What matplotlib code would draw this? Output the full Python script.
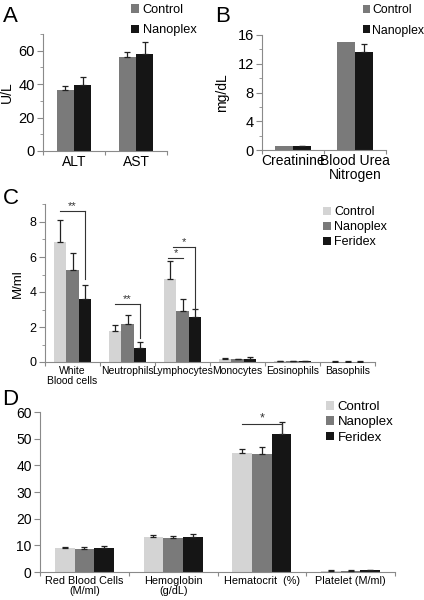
import matplotlib
matplotlib.use("Agg")
import matplotlib.pyplot as plt
from matplotlib.patches import Patch
from matplotlib.ticker import MultipleLocator
import numpy as np

plt.rcParams['font.family'] = ['Liberation Sans', 'DejaVu Sans']
NARROW = ['Liberation Sans Narrow', 'Liberation Sans', 'DejaVu Sans']

# ---------------- data ----------------
a_cats = ["ALT", "AST"]
a_control = [36.5, 56.0]
a_control_err = [2.5, 3.5]
a_nano = [39.5, 58.0]
a_nano_err = [5.0, 7.5]

b_cats = ["Creatinine", "Blood Urea\nNitrogen"]
b_control = [0.6, 15.0]
b_control_err = [0.0, 0.0]
b_nano = [0.5, 13.7]
b_nano_err = [0.1, 1.1]

c_cats = ["White\nBlood cells", "Neutrophils", "Lymphocytes", "Monocytes", "Eosinophils", "Basophils"]
c_control = [6.85, 1.8, 4.75, 0.2, 0.03, 0.02]
c_control_err = [1.25, 0.3, 1.05, 0.05, 0.01, 0.01]
c_nano = [5.25, 2.15, 2.9, 0.15, 0.03, 0.02]
c_nano_err = [0.95, 0.55, 0.7, 0.05, 0.01, 0.01]
c_ferid = [3.6, 0.8, 2.55, 0.18, 0.03, 0.02]
c_ferid_err = [0.8, 0.35, 0.5, 0.12, 0.01, 0.01]

d_cats = ["Red Blood Cells\n(M/ml)", "Hemoglobin\n(g/dL)", "Hematocrit  (%)", "Platelet (M/ml)"]
d_control = [9.0, 13.2, 44.7, 0.5]
d_control_err = [0.5, 0.6, 1.4, 0.2]
d_nano = [8.7, 12.9, 44.1, 0.5]
d_nano_err = [0.5, 0.5, 2.6, 0.2]
d_ferid = [9.0, 13.3, 51.8, 0.6]
d_ferid_err = [0.9, 0.8, 4.3, 0.2]

# ---------------- figure ----------------
W, H = 424, 600
fig = plt.figure(figsize=(W / 100, H / 100), dpi=100)

def px_axes(left, right, bottom, top):
    return fig.add_axes([left / W, 1 - bottom / H, (right - left) / W, (bottom - top) / H])

AXC = '#8a8a8a'
C_LIGHT = '#d4d4d4'
C_MID = '#7a7a7a'
C_DARK = '#151515'

def style(ax, ncat, ymax, major, minor, fs):
    ax.set_xlim(0, ncat)
    ax.set_ylim(0, ymax)
    for s in ['top', 'right']:
        ax.spines[s].set_visible(False)
    for s in ['left', 'bottom']:
        ax.spines[s].set_color(AXC)
        ax.spines[s].set_linewidth(0.8)
    ax.yaxis.set_major_locator(MultipleLocator(major))
    if minor:
        ax.yaxis.set_minor_locator(MultipleLocator(minor))
    ax.tick_params(axis='y', which='major', length=4, width=0.8, color=AXC, labelsize=fs, pad=2)
    ax.tick_params(axis='y', which='minor', length=2.5, width=0.6, color=AXC)
    ax.set_xticks(np.arange(0, ncat + 1), minor=True)
    ax.set_xticks(np.arange(ncat) + 0.5)
    ax.tick_params(axis='x', which='major', length=0, pad=3)
    ax.tick_params(axis='x', which='minor', length=3, width=0.8, color=AXC)

def bars(ax, vals, errs, colors, width):
    n = len(vals)
    x = np.arange(len(vals[0])) + 0.5
    offs = (np.arange(n) - (n - 1) / 2) * width
    for v, e, c, o in zip(vals, errs, colors, offs):
        ax.bar(x + o, v, width, color=c, zorder=2)
        e = np.asarray(e, dtype=float)
        m = e > 0
        if m.any():
            ax.errorbar((x + o)[m], np.asarray(v)[m], yerr=[np.zeros(m.sum()), e[m]], fmt='none',
                        ecolor='#222222', elinewidth=0.9, capsize=2.4, capthick=0.9, zorder=3)
    return x, offs

def legend(ax, labels, colors, x, y, fs, spacing, pad=0.3):
    handles = [Patch(facecolor=c, edgecolor='none') for c in colors]
    ax.legend(handles, labels, loc='upper left', bbox_to_anchor=(x / W, 1 - y / H),
              bbox_transform=fig.transFigure, frameon=False, fontsize=fs,
              handlelength=0.6, handleheight=0.6, handletextpad=pad,
              labelspacing=spacing, borderaxespad=0, borderpad=0)

# ---- Panel A ----
axA = px_axes(43, 167, 151, 34)
style(axA, 2, 70, 20, 10, 10.5)
bars(axA, [a_control, a_nano], [a_control_err, a_nano_err], [C_MID, C_DARK], 0.28)
axA.set_xticklabels(a_cats, fontsize=10)
axA.set_ylabel("U/L", fontsize=10, labelpad=3)
legend(axA, ["Control", "Nanoplex"], [C_MID, C_DARK], 131, 4, 9.2, 0.65)
fig.text(3 / W, 1 - 22 / H, "A", fontsize=16)

# ---- Panel B ----
axB = px_axes(262, 386, 150, 35)
style(axB, 2, 16, 4, 2, 10.5)
bars(axB, [b_control, b_nano], [b_control_err, b_nano_err], [C_MID, C_DARK], 0.29)
axB.set_xticklabels(b_cats, fontsize=10, linespacing=0.95)
axB.set_ylabel("mg/dL", fontsize=10, labelpad=6)
legend(axB, ["Control", "Nanoplex"], [C_MID, C_DARK], 363, 4, 8.8, 0.7, pad=0.15)
fig.text(215 / W, 1 - 22 / H, "B", fontsize=16)

# ---- Panel C ----
axC = px_axes(45, 375, 362, 204.5)
style(axC, 6, 9, 2, 1, 9)
xc, oc = bars(axC, [c_control, c_nano, c_ferid], [c_control_err, c_nano_err, c_ferid_err],
              [C_LIGHT, C_MID, C_DARK], 0.225)
axC.set_xticklabels(c_cats, fontsize=7.5, family=NARROW, linespacing=0.95)
axC.set_ylabel("M/ml", fontsize=9.5, labelpad=4)
legend(axC, ["Control", "Nanoplex", "Feridex"], [C_LIGHT, C_MID, C_DARK], 323, 206, 9, 0.25)
fig.text(3 / W, 1 - 204 / H, "C", fontsize=16)

def bracket(ax, x1, x2, y, ydrop, stars, fs=8):
    ax.plot([x1, x2], [y, y], color='#333333', lw=0.8, zorder=4)
    if ydrop is not None:
        ax.plot([x2, x2], [y, ydrop], color='#333333', lw=0.8, zorder=4)
    ax.text((x1 + x2) / 2, y, stars, ha='center', va='bottom', fontsize=fs, color='#333333')

# WBC
bracket(axC, xc[0] + oc[0], xc[0] + oc[2], 8.6, c_ferid[0] + c_ferid_err[0] + 0.35, "**")
# Neutrophils
bracket(axC, xc[1] + oc[0], xc[1] + oc[2], 3.3, c_ferid[1] + c_ferid_err[1] + 0.25, "**")
# Lymphocytes
bracket(axC, xc[2] + oc[0] - 0.03, xc[2] + oc[1], 5.95, None, "*")
bracket(axC, xc[2] + oc[0] + 0.05, xc[2] + oc[2], 6.55, c_ferid[2] + c_ferid_err[2], "*")

# ---- Panel D ----
axD = px_axes(40, 395, 572, 412)
style(axD, 4, 60, 10, None, 10)
xd, od = bars(axD, [d_control, d_nano, d_ferid], [d_control_err, d_nano_err, d_ferid_err],
              [C_LIGHT, C_MID, C_DARK], 0.222)
axD.set_xticklabels(d_cats, fontsize=7.8, family=NARROW, linespacing=0.95)
legend(axD, ["Control", "Nanoplex", "Feridex"], [C_LIGHT, C_MID, C_DARK], 326, 401, 9.5, 0.25)
fig.text(2 / W, 1 - 405 / H, "D", fontsize=16)
bracket(axD, xd[2] + od[0], xd[2] + od[2], 55.5, d_ferid[2], "*", fs=9)

fig.savefig("out.png", dpi=100)
